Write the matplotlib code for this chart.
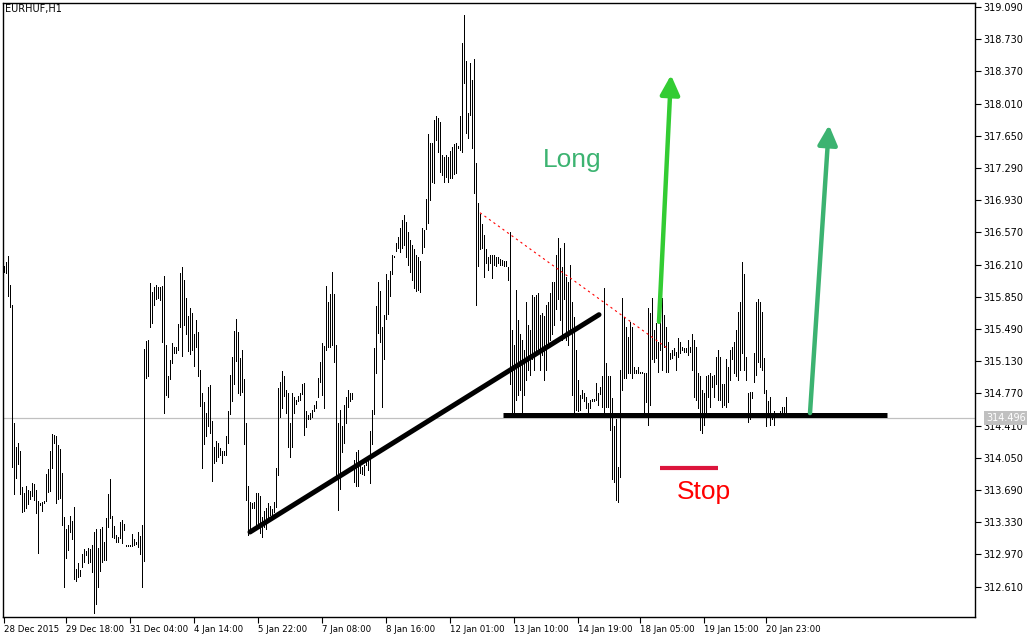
import matplotlib
matplotlib.use("Agg")
import matplotlib.pyplot as plt
import matplotlib.transforms as mtransforms
import numpy as np

# EURHUF H1 bars (high / low), one value per hourly bar
highs = [
    316.20, 316.24, 316.31, 315.98, 315.76, 314.44, 314.17, 314.22, 314.13, 313.72,
    313.66, 313.74, 313.69, 313.68, 313.77, 313.76, 313.69, 313.57, 313.55, 313.56,
    313.57, 313.87, 313.92, 314.13, 314.32, 314.30, 314.29, 314.19, 314.15, 313.88,
    313.39, 313.25, 313.30, 313.40, 313.34, 313.50, 312.81, 312.87, 312.79, 312.97,
    313.03, 313.01, 313.04, 313.03, 313.07, 313.22, 313.25, 313.04, 313.25, 313.28,
    313.11, 313.38, 313.65, 313.81, 313.40, 313.29, 313.19, 313.17, 313.33, 313.36,
    313.31, 313.08, 313.08, 313.08, 313.20, 313.14, 313.11, 313.22, 313.18, 313.30,
    315.27, 315.36, 315.37, 316.00, 315.90, 315.96, 315.98, 315.96, 315.96, 315.97,
    316.08, 315.31, 314.97, 315.14, 315.33, 315.29, 315.29, 315.55, 316.12, 316.18,
    316.04, 315.84, 315.64, 315.73, 315.67, 315.43, 315.59, 315.46, 315.03, 314.78,
    314.67, 314.55, 314.84, 314.86, 314.46, 314.17, 314.24, 314.22, 314.16, 314.13,
    314.13, 314.29, 314.57, 314.98, 315.18, 315.47, 315.60, 315.46, 315.17, 315.26,
    314.93, 314.44, 313.74, 313.56, 313.55, 313.56, 313.66, 313.66, 313.62, 313.39,
    313.45, 313.49, 313.54, 313.51, 313.48, 313.56, 313.94, 314.83, 314.90, 315.02,
    314.96, 314.81, 314.78, 314.44, 314.78, 314.73, 314.70, 314.74, 314.78, 314.87,
    314.89, 314.57, 314.53, 314.55, 314.58, 314.64, 314.69, 314.94, 315.12, 315.33,
    315.30, 315.97, 315.79, 315.88, 316.13, 315.88, 315.31, 314.44, 314.58, 314.40,
    314.64, 314.73, 314.81, 314.77, 314.77, 314.02, 314.11, 314.14, 313.97, 313.95,
    313.97, 314.05, 314.06, 314.35, 314.58, 315.28, 315.75, 316.01, 315.91, 315.51,
    315.65, 316.11, 316.04, 316.14, 316.32, 316.31, 316.45, 316.52, 316.62, 316.71,
    316.77, 316.69, 316.58, 316.49, 316.43, 316.38, 316.32, 316.29, 316.25, 316.62,
    316.60, 316.94, 317.67, 317.57, 317.57, 317.83, 317.87, 317.85, 317.80, 317.43,
    317.41, 317.44, 317.41, 317.48, 317.53, 317.56, 317.57, 317.54, 317.87, 318.69,
    319.00, 318.49, 317.91, 318.46, 318.27, 318.51, 317.35, 316.90, 316.78, 316.66,
    316.54, 316.39, 316.29, 316.32, 316.32, 316.32, 316.30, 316.29, 316.27, 316.26,
    316.25, 316.25, 316.18, 316.57, 315.48, 315.31, 315.93, 315.59, 315.43, 315.37,
    315.26, 315.79, 315.54, 315.48, 315.87, 315.85, 315.87, 315.89, 315.65, 315.67,
    315.63, 315.76, 315.79, 315.89, 316.01, 316.01, 316.32, 316.51, 316.40, 316.18,
    316.45, 316.07, 316.01, 316.21, 315.79, 315.62, 315.26, 314.92, 314.75, 314.81,
    314.78, 314.73, 314.66, 314.70, 314.71, 314.71, 314.89, 314.78, 314.84, 314.96,
    315.95, 315.11, 314.96, 314.96, 314.72, 314.40, 314.48, 313.95, 315.03, 315.84,
    315.62, 315.51, 315.40, 315.57, 315.51, 315.07, 315.03, 315.06, 315.01, 315.01,
    315.00, 315.00, 315.73, 315.67, 315.84, 315.48, 315.56, 315.34, 315.71, 315.84,
    315.65, 315.51, 315.35, 315.22, 315.26, 315.28, 315.23, 315.39, 315.34, 315.29,
    315.28, 315.28, 315.37, 315.29, 315.43, 315.37, 315.29, 315.00, 314.96, 314.81,
    314.78, 314.96, 314.98, 315.00, 314.96, 314.98, 315.18, 315.26, 315.18, 314.87,
    314.87, 315.15, 315.07, 315.26, 315.29, 315.35, 315.48, 315.68, 315.79, 316.24,
    316.10, 315.18, 314.78, 314.79, 314.79, 315.22, 315.79, 315.82, 315.79, 315.68,
    315.17, 314.81, 314.68, 314.73, 314.55, 314.57, 314.55, 314.55, 314.57, 314.62,
    314.62, 314.73,
]
lows = [
    316.13, 316.12, 315.86, 315.74, 313.95, 313.64, 313.82, 313.98, 313.65, 313.44,
    313.45, 313.49, 313.53, 313.59, 313.62, 313.58, 313.43, 312.99, 313.52, 313.46,
    313.55, 313.57, 313.67, 313.68, 313.94, 314.21, 313.55, 313.59, 313.60, 313.30,
    312.61, 312.93, 313.02, 313.22, 313.14, 312.69, 312.67, 312.72, 312.73, 312.83,
    312.88, 312.96, 312.87, 312.88, 312.77, 312.32, 312.41, 312.60, 312.78, 312.88,
    312.91, 312.91, 313.28, 313.38, 313.17, 313.15, 313.11, 313.11, 313.15, 313.10,
    313.24, 313.06, 313.06, 313.06, 313.06, 313.07, 313.09, 313.05, 312.97, 312.61,
    312.90, 314.94, 314.97, 315.51, 315.56, 315.76, 315.83, 315.84, 315.81, 315.34,
    314.55, 314.75, 314.73, 314.93, 315.11, 315.22, 315.22, 315.25, 315.51, 315.19,
    315.54, 315.43, 315.24, 315.21, 315.25, 315.08, 315.29, 314.96, 314.63, 313.94,
    314.20, 314.29, 314.40, 314.33, 313.79, 313.99, 314.01, 314.06, 314.08, 313.99,
    314.08, 314.08, 314.22, 314.54, 314.68, 314.88, 315.13, 314.78, 314.75, 314.79,
    314.20, 313.58, 313.19, 313.21, 313.49, 313.49, 313.27, 313.28, 313.21, 313.17,
    313.28, 313.25, 313.39, 313.41, 313.39, 313.44, 313.50, 313.86, 314.51, 314.61,
    314.74, 314.55, 314.17, 314.06, 314.17, 314.55, 314.65, 314.68, 314.70, 314.76,
    314.31, 314.39, 314.48, 314.48, 314.51, 314.57, 314.61, 314.73, 314.90, 314.75,
    314.61, 315.26, 315.29, 315.29, 315.31, 315.12, 313.81, 313.47, 313.70, 314.12,
    314.22, 314.44, 314.62, 314.69, 314.71, 313.78, 313.73, 313.74, 313.88, 313.87,
    313.86, 313.97, 313.91, 313.77, 314.20, 314.54, 315.00, 315.45, 315.34, 314.62,
    315.15, 315.60, 315.66, 315.86, 316.11, 316.29, 316.36, 316.40, 316.35, 316.40,
    316.43, 316.29, 316.21, 316.13, 316.04, 315.95, 315.91, 315.93, 315.90, 316.34,
    316.41, 316.61, 316.68, 316.93, 317.13, 317.12, 317.60, 317.47, 317.24, 317.21,
    317.13, 317.19, 317.13, 317.18, 317.18, 317.22, 317.23, 317.51, 317.49, 317.47,
    318.24, 317.68, 317.63, 317.88, 317.51, 317.01, 315.76, 316.19, 316.38, 316.40,
    316.07, 316.23, 316.15, 316.23, 316.06, 316.21, 316.19, 316.23, 316.21, 316.21,
    316.20, 316.20, 316.04, 314.87, 314.55, 314.55, 314.70, 314.75, 314.81, 314.55,
    314.75, 314.92, 315.03, 314.98, 315.15, 315.03, 315.20, 315.26, 315.03, 315.20,
    314.92, 315.03, 315.31, 315.37, 315.43, 315.54, 315.71, 315.82, 315.59, 315.37,
    315.82, 315.37, 315.31, 315.48, 314.75, 314.55, 314.59, 314.57, 314.59, 314.72,
    314.68, 314.61, 314.56, 314.61, 314.68, 314.68, 314.70, 314.64, 314.76, 314.62,
    314.53, 314.62, 314.62, 314.36, 313.81, 313.78, 313.58, 313.56, 313.84, 314.81,
    314.94, 314.94, 315.00, 315.00, 314.94, 315.00, 315.00, 315.00, 315.00, 315.00,
    314.51, 314.67, 314.42, 314.64, 315.15, 315.12, 315.17, 315.01, 315.26, 315.03,
    315.29, 315.01, 315.01, 315.15, 315.17, 315.20, 315.03, 315.18, 315.22, 315.26,
    315.23, 315.23, 315.20, 315.23, 315.03, 314.73, 314.70, 314.61, 314.36, 314.33,
    314.42, 314.55, 314.73, 314.62, 314.84, 314.73, 314.87, 314.70, 314.70, 314.62,
    314.64, 314.62, 314.67, 314.92, 315.15, 315.00, 314.96, 314.92, 315.03, 315.22,
    315.03, 314.92, 314.45, 314.48, 314.72, 314.90, 314.98, 315.12, 315.07, 315.03,
    314.78, 314.40, 314.51, 314.42, 314.48, 314.42, 314.51, 314.51, 314.51, 314.53,
    314.55, 314.53,
]

# time axis labels (bar index -> label)
tick_idx = [0, 31, 63, 95, 127, 159, 191, 223, 255, 287, 318, 350, 381]
tick_labels = ["28 Dec 2015", "29 Dec 18:00", "31 Dec 04:00", "4 Jan 14:00",
               "5 Jan 22:00", "7 Jan 08:00", "8 Jan 16:00", "12 Jan 01:00",
               "13 Jan 10:00", "14 Jan 19:00", "18 Jan 05:00", "19 Jan 15:00",
               "20 Jan 23:00"]
price_ticks = [312.61 + 0.36 * k for k in range(19)]
last_price = 314.496

# drawn objects (bar index, price)
trend_x, trend_y = [123, 297.5], [313.22, 315.65]
support_x, support_y = [249.5, 441.5], [314.53, 314.53]
dotted_x, dotted_y = [238, 332], [316.79, 315.27]
stop_x, stop_y = [328, 357], [313.94, 313.94]
arrow1 = [(327.5, 315.57), (333.5, 318.33)]
arrow2 = [(403, 314.55), (412.5, 317.77)]

fig = plt.figure(figsize=(10.32, 6.39), dpi=100)
ax = fig.add_axes([3/1032, 22/639, 972/1032, 614/639])

x = np.arange(len(highs))
ax.vlines(x, lows, highs, color="black", lw=0.72, antialiased=False, zorder=3)

ax.axhline(last_price, color="#c0c0c0", lw=0.9, zorder=1)

ax.plot(trend_x, trend_y, color="black", lw=3.6, solid_capstyle="round", zorder=4)
ax.plot(support_x, support_y, color="black", lw=3.6, solid_capstyle="butt", zorder=4)
ax.plot(dotted_x, dotted_y, color="red", lw=0.8, ls=(0, (2, 3)), zorder=4)
ax.plot(stop_x, stop_y, color="crimson", lw=3.0, solid_capstyle="butt", zorder=4)

for (a, col) in [(arrow1, "#33cc33"), (arrow2, "#3cb371")]:
    ax.annotate("", xy=a[1], xytext=a[0],
                arrowprops=dict(arrowstyle="-|>,head_length=0.9,head_width=0.45",
                                color=col, lw=3.2, mutation_scale=13,
                                shrinkA=0, shrinkB=0), zorder=5)

ax.text(284, 317.38, "Long", color="#3cb371", fontsize=19,
        family="Liberation Sans", ha="center", va="center")
ax.text(350, 313.67, "Stop", color="red", fontsize=19,
        family="Liberation Sans", ha="center", va="center")

ax.set_xlim(-0.5, 485.5)
ax.set_ylim(312.27, 319.135)

ax.yaxis.tick_right()
ax.set_yticks(price_ticks)
ax.set_yticklabels([f"{v:.3f}" for v in price_ticks])
ax.set_xticks(tick_idx)
ax.set_xticklabels(tick_labels, ha="left")
ax.tick_params(axis="both", direction="out", length=4, width=0.8, colors="black",
               labelsize=7, pad=2)
ax.tick_params(axis="x", labelsize=6.2)
for s in ax.spines.values():
    s.set_linewidth(1.0)

trans = mtransforms.blended_transform_factory(ax.transAxes, ax.transData)
ax.text(1 + 11/972, last_price, f"{last_price:.3f}", transform=trans,
        color="white", fontsize=7, va="center", ha="left", clip_on=False,
        bbox=dict(facecolor="#c0c0c0", edgecolor="none", pad=1.2), zorder=6)

fig.text(5/1032, 1 - 4/639, "EURHUF,H1", fontsize=7, va="top", ha="left")

fig.savefig("out.png", dpi=100)
